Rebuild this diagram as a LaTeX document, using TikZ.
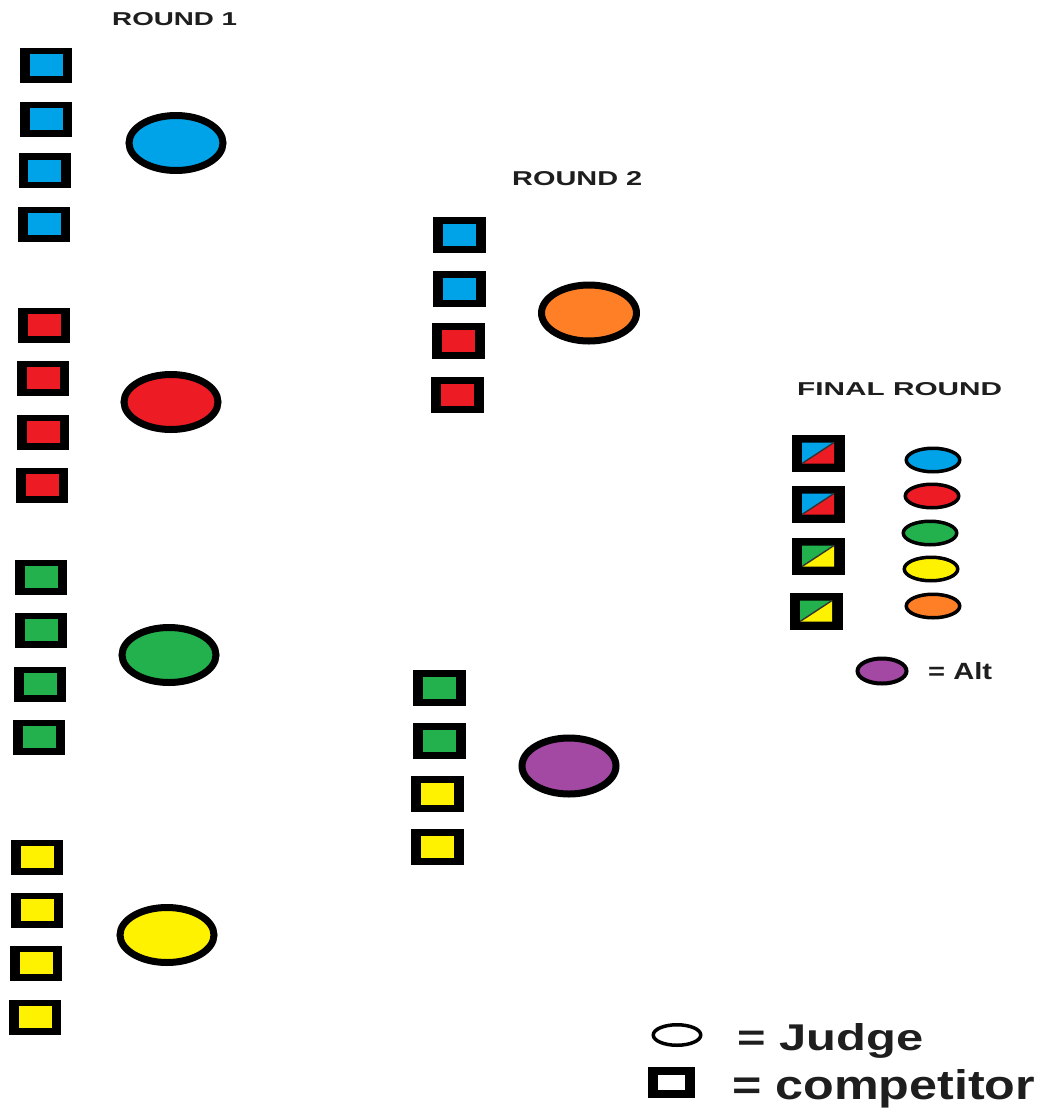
\documentclass[tikz,border=0pt]{standalone}
\usepackage{fontspec}
\setmainfont{Liberation Sans}
\usepackage{graphicx}
\usetikzlibrary{shapes.geometric}
\definecolor{cBlue}{HTML}{00A2E8}
\definecolor{cRed}{HTML}{ED1C24}
\definecolor{cGreen}{HTML}{22B14C}
\definecolor{cYellow}{HTML}{FFF200}
\definecolor{cOrange}{HTML}{FF7F27}
\definecolor{cPurple}{HTML}{A349A4}
\definecolor{txt}{HTML}{1E1E1E}
\begin{document}
\begin{tikzpicture}[x=1pt,y=-1pt,
  comp/.style args={#1/#2/#3/#4/#5}{rectangle, fill=black, inner sep=0pt,
    minimum width=#2pt, minimum height=#3pt,
    path picture={\fill[#1] ([shift={(#4pt,#5pt)}]path picture bounding box.south west)
      rectangle ([shift={(-#4pt,-#5pt)}]path picture bounding box.north east);}},
  r1sq/.style={comp=#1/52/35/9.5/6.5},
  r2sq/.style={comp=#1/53/36/10/7},
  splitsq/.style 2 args={rectangle, fill=black, inner sep=0pt,
    minimum width=53pt, minimum height=37pt,
    path picture={
      \coordinate (pA) at ([shift={(10.5pt,8pt)}]path picture bounding box.south west);
      \coordinate (pC) at ([shift={(-10.5pt,-8pt)}]path picture bounding box.north east);
      \fill[#1] (pA) |- (pC) -- cycle;
      \fill[#2] (pA) -| (pC) -- cycle;
      \draw[black!80, line width=1.4pt] (pA) -- (pC);}},
  judge/.style={ellipse, draw=black, fill=#1, inner sep=0pt, line width=7pt,
    minimum width=94pt, minimum height=55pt},
  fjudge/.style={ellipse, draw=black, fill=#1, inner sep=0pt, line width=3.5pt,
    minimum width=53.5pt, minimum height=23.5pt},
  lbl/.style={anchor=base west, inner sep=0pt, text=txt, font=\bfseries}
]
\useasboundingbox (0,0) rectangle (1049,1117);
\fill[white] (0,0) rectangle (1049,1117);

% titles
\node[lbl] (t1) at (112,25) {\resizebox{125pt}{13pt}{ROUND 1}};
\node[lbl] (t2) at (512,185) {\resizebox{130pt}{14pt}{ROUND 2}};
\node[lbl] (t3) at (797,395) {\resizebox{205pt}{13pt}{FINAL ROUND}};

% round 1 competitors
\node[r1sq=cBlue] (a1) at (46,65) {};
\node[r1sq=cBlue] (a2) at (46,119) {};
\node[r1sq=cBlue] (a3) at (44.5,170.5) {};
\node[r1sq=cBlue] (a4) at (44,224) {};
\node[r1sq=cRed] (b1) at (44,325) {};
\node[r1sq=cRed] (b2) at (43,378) {};
\node[r1sq=cRed] (b3) at (43,432) {};
\node[r1sq=cRed] (b4) at (42,485) {};
\node[r1sq=cGreen] (c1) at (41,577) {};
\node[r1sq=cGreen] (c2) at (41,630) {};
\node[r1sq=cGreen] (c3) at (40,684) {};
\node[r1sq=cGreen] (c4) at (39,737) {};
\node[r1sq=cYellow] (d1) at (37,857) {};
\node[r1sq=cYellow] (d2) at (37,910) {};
\node[r1sq=cYellow] (d3) at (36,963) {};
\node[r1sq=cYellow] (d4) at (35,1017) {};

% round 1 judges
\node[judge=cBlue] (ja) at (176,143) {};
\node[judge=cRed] (jb) at (171,402) {};
\node[judge=cGreen] (jc) at (169,655) {};
\node[judge=cYellow] (jd) at (167,935) {};

% round 2 competitors
\node[r2sq=cBlue] (e1) at (459,235) {};
\node[r2sq=cBlue] (e2) at (459,289) {};
\node[r2sq=cRed] (e3) at (458,341) {};
\node[r2sq=cRed] (e4) at (457,395) {};
\node[r2sq=cGreen] (f1) at (439,688) {};
\node[r2sq=cGreen] (f2) at (439,741) {};
\node[r2sq=cYellow] (f3) at (437,794) {};
\node[r2sq=cYellow] (f4) at (437,847) {};

% round 2 judges
\node[judge=cOrange, minimum width=95pt, minimum height=56pt] (je) at (589,313) {};
\node[judge=cPurple, minimum width=94pt, minimum height=56pt] (jf) at (569,766) {};

% final round competitors
\node[splitsq={cBlue}{cRed}] (g1) at (818,453) {};
\node[splitsq={cBlue}{cRed}] (g2) at (818,504) {};
\node[splitsq={cGreen}{cYellow}] (g3) at (818,556) {};
\node[splitsq={cGreen}{cYellow}] (g4) at (816,611) {};

% final round judges
\node[fjudge=cBlue] (h1) at (933,460) {};
\node[fjudge=cRed] (h2) at (932,496) {};
\node[fjudge=cGreen] (h3) at (930,533) {};
\node[fjudge=cYellow] (h4) at (931,569) {};
\node[fjudge=cOrange] (h5) at (933,606) {};

% alternate
\node[fjudge=cPurple, line width=4pt, minimum width=49pt, minimum height=25pt] (alt) at (882,671) {};
\node[lbl] (altl) at (928,679) {\resizebox{64pt}{17pt}{= Alt}};

% legend
\node[ellipse, draw=black, fill=white, line width=3.5pt, inner sep=0pt,
  minimum width=47.5pt, minimum height=20.5pt] (lj) at (677,1035) {};
\node[lbl] (ljl) at (737,1050) {\resizebox{186pt}{27pt}{= Judge}};
\node[comp=white/47/31/10/8] (lc) at (671.5,1082) {};
\node[lbl] (lcl) at (732,1099) {\resizebox{303pt}{30pt}{= competitor}};
\end{tikzpicture}
\end{document}
